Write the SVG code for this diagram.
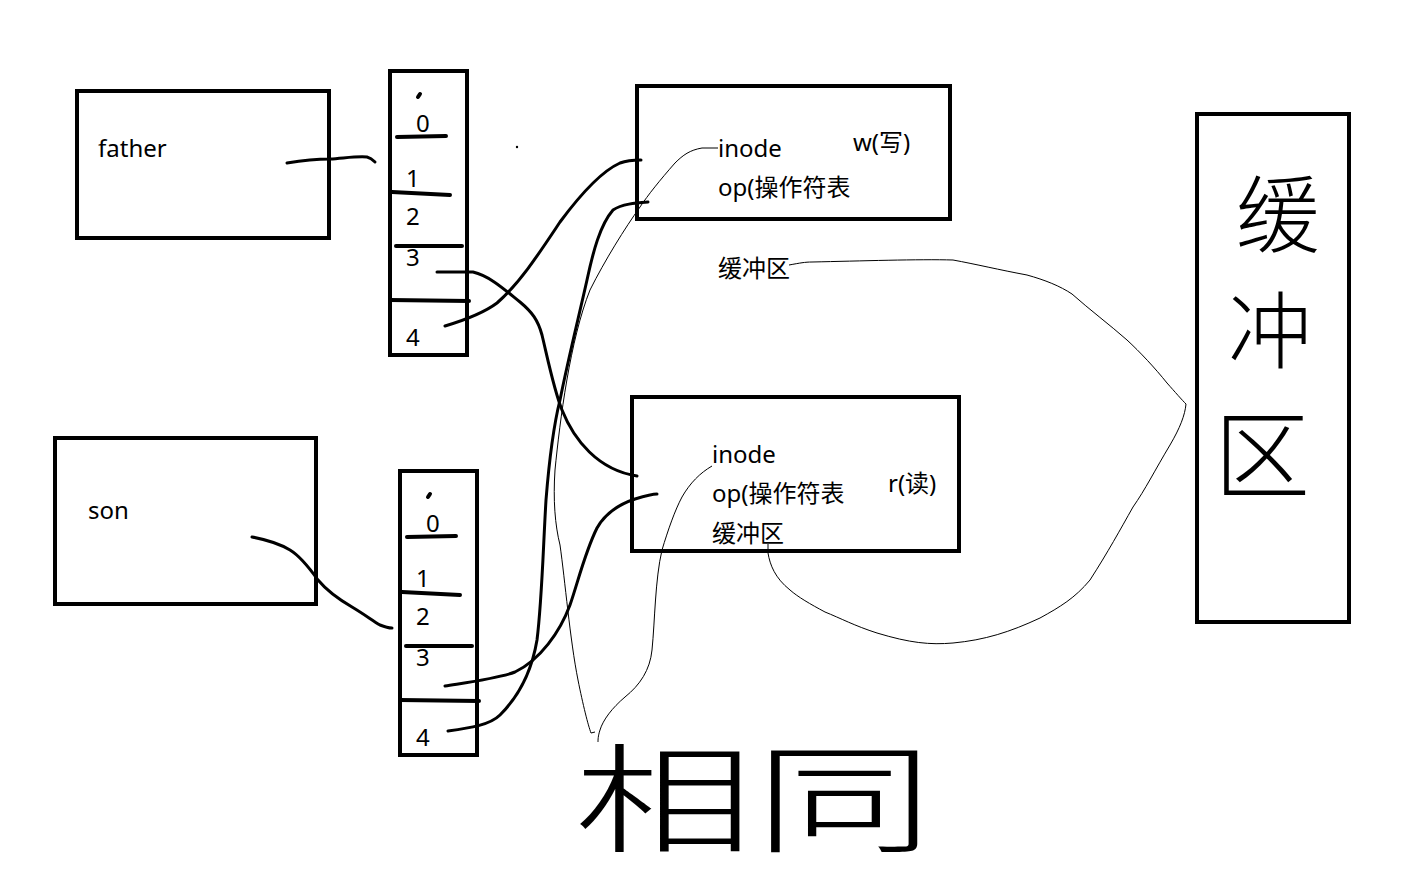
<svg xmlns="http://www.w3.org/2000/svg" width="1411" height="878" viewBox="0 0 1411 878">
<style>
.box{fill:none;stroke:#000;stroke-width:4}
.div{stroke:#000;stroke-width:4;stroke-linecap:round}
.thick{fill:none;stroke:#000;stroke-width:3;stroke-linecap:round;stroke-linejoin:round}
.thin{fill:none;stroke:#000;stroke-width:1}
.t{font-family:"Noto Sans","Noto Sans CJK SC",sans-serif;font-size:24px;fill:#000}
.hw{font-family:"Noto Sans CJK SC",sans-serif;fill:#000}
</style>
<rect width="1411" height="878" fill="#fff"/>

<g id="father">
<rect class="box" x="77" y="91" width="252" height="147"/>
<text class="t" x="98" y="157">father</text>
</g>

<g id="son">
<rect class="box" x="55" y="438" width="261" height="166"/>
<text class="t" x="88" y="519">son</text>
</g>

<g id="fd-father">
<rect class="box" x="390" y="71" width="77" height="284"/>
<line class="div" x1="418" y1="97" x2="420" y2="94" stroke-width="3"/>
<text class="t" x="416" y="132">0</text>
<line class="div" x1="397" y1="137" x2="446" y2="136"/>
<text class="t" x="406" y="187">1</text>
<line class="div" x1="392" y1="192" x2="450" y2="195"/>
<text class="t" x="406" y="225">2</text>
<line class="div" x1="396" y1="246" x2="462" y2="246"/>
<text class="t" x="406" y="266">3</text>
<line class="div" x1="390" y1="300" x2="469" y2="301"/>
<text class="t" x="406" y="346">4</text>
</g>

<g id="fd-son">
<rect class="box" x="400" y="471" width="77" height="284"/>
<line class="div" x1="428" y1="497" x2="430" y2="494" stroke-width="3"/>
<text class="t" x="426" y="532">0</text>
<line class="div" x1="407" y1="537" x2="456" y2="536"/>
<text class="t" x="416" y="587">1</text>
<line class="div" x1="402" y1="592" x2="460" y2="595"/>
<text class="t" x="416" y="625">2</text>
<line class="div" x1="406" y1="646" x2="472" y2="646"/>
<text class="t" x="416" y="666">3</text>
<line class="div" x1="400" y1="700" x2="479" y2="701"/>
<text class="t" x="416" y="746">4</text>
</g>

<g id="file-w">
<rect class="box" x="637" y="86" width="313" height="133"/>
<text class="t" x="718" y="157">inode</text>
<text class="t" x="718" y="196">op(操作符表</text>
<text class="t" x="853" y="151">w(写)</text>
</g>

<text id="buf-label" class="t" x="718" y="277">缓冲区</text>

<g id="file-r">
<rect class="box" x="632" y="397" width="327" height="154"/>
<text class="t" x="712" y="463">inode</text>
<text class="t" x="712" y="502">op(操作符表</text>
<text class="t" x="712" y="542">缓冲区</text>
<text class="t" x="888" y="492">r(读)</text>
</g>

<g id="buffer">
<rect class="box" x="1197" y="114" width="152" height="508"/>
<text class="hw" x="1236" y="246" font-size="84" font-weight="300">缓</text>
<text class="hw" x="1228" y="362" font-size="84" font-weight="300">冲</text>
<text class="hw" x="1214" y="490" font-size="96" font-weight="300">区</text>
</g>

<g id="same-note">
<text class="hw" x="574" y="843" font-size="118" font-weight="300" textLength="360" lengthAdjust="spacingAndGlyphs">相同</text>
</g>

<circle cx="517" cy="147" r="1.2" fill="#000"/>

<g id="connectors">
<path class="thick" d="M287,163 C305,160 318,159 330,159 C345,158 358,156 367,157 C371,158 373,160 375,162"/>
<path class="thick" d="M252,537 C268,540 280,544 290,550 C300,556 308,566 318,580 C328,592 340,600 352,607 C362,613 372,620 380,625 C385,627 389,628 392,628"/>
<path class="thick" d="M437,272 L473,272 C490,276 505,290 520,302 C532,312 538,320 542,335 C548,360 554,390 562,410 C574,440 598,470 637,476"/>
<path class="thick" d="M445,326 C465,320 485,312 497,303 C520,283 540,252 560,222 C580,195 600,172 620,163 C628,160 635,160 641,160"/>
<path class="thick" d="M448,731 C470,728 490,725 500,715 C520,695 532,670 537,640 C542,600 543,550 546,500 C550,450 555,420 560,400 C568,360 578,320 587,280 C593,252 600,225 613,210 C622,204 635,203 648,202"/>
<path class="thick" d="M445,686 C470,682 500,678 515,672 C540,660 560,632 570,605 C578,582 585,552 597,528 C606,512 620,504 635,499 C645,496 652,494 657,494"/>
<path class="thin" d="M718,148 L702,148 C690,150 683,155 675,163 C660,180 648,195 640,207 C625,228 605,260 590,290 C570,340 560,420 555,470 C553,500 555,525 560,545 C565,580 570,640 578,680 C583,705 588,725 591,733 L595,732"/>
<path class="thin" d="M712,466 C700,473 690,483 682,497 C675,510 668,530 662,550 C655,580 655,620 652,650 C650,670 640,685 625,697 C612,708 603,720 600,730 C598,736 598,740 598,742"/>
<path class="thin" d="M789,265 C800,263 805,262 812,262 C860,261 920,259 953,260 C975,264 1000,270 1027,275 C1045,280 1060,286 1072,294 C1090,310 1110,325 1127,340 C1140,352 1155,368 1167,383 C1175,392 1182,400 1186,404 C1185,415 1180,428 1170,445 C1155,470 1145,490 1133,507 C1120,530 1108,552 1090,580 C1075,598 1060,607 1040,618 C1010,632 985,640 953,643 C930,645 910,643 877,633 C855,626 840,618 825,612 C810,604 798,597 790,590 C775,578 770,565 768,553 L768,544"/>
</g>
</svg>
